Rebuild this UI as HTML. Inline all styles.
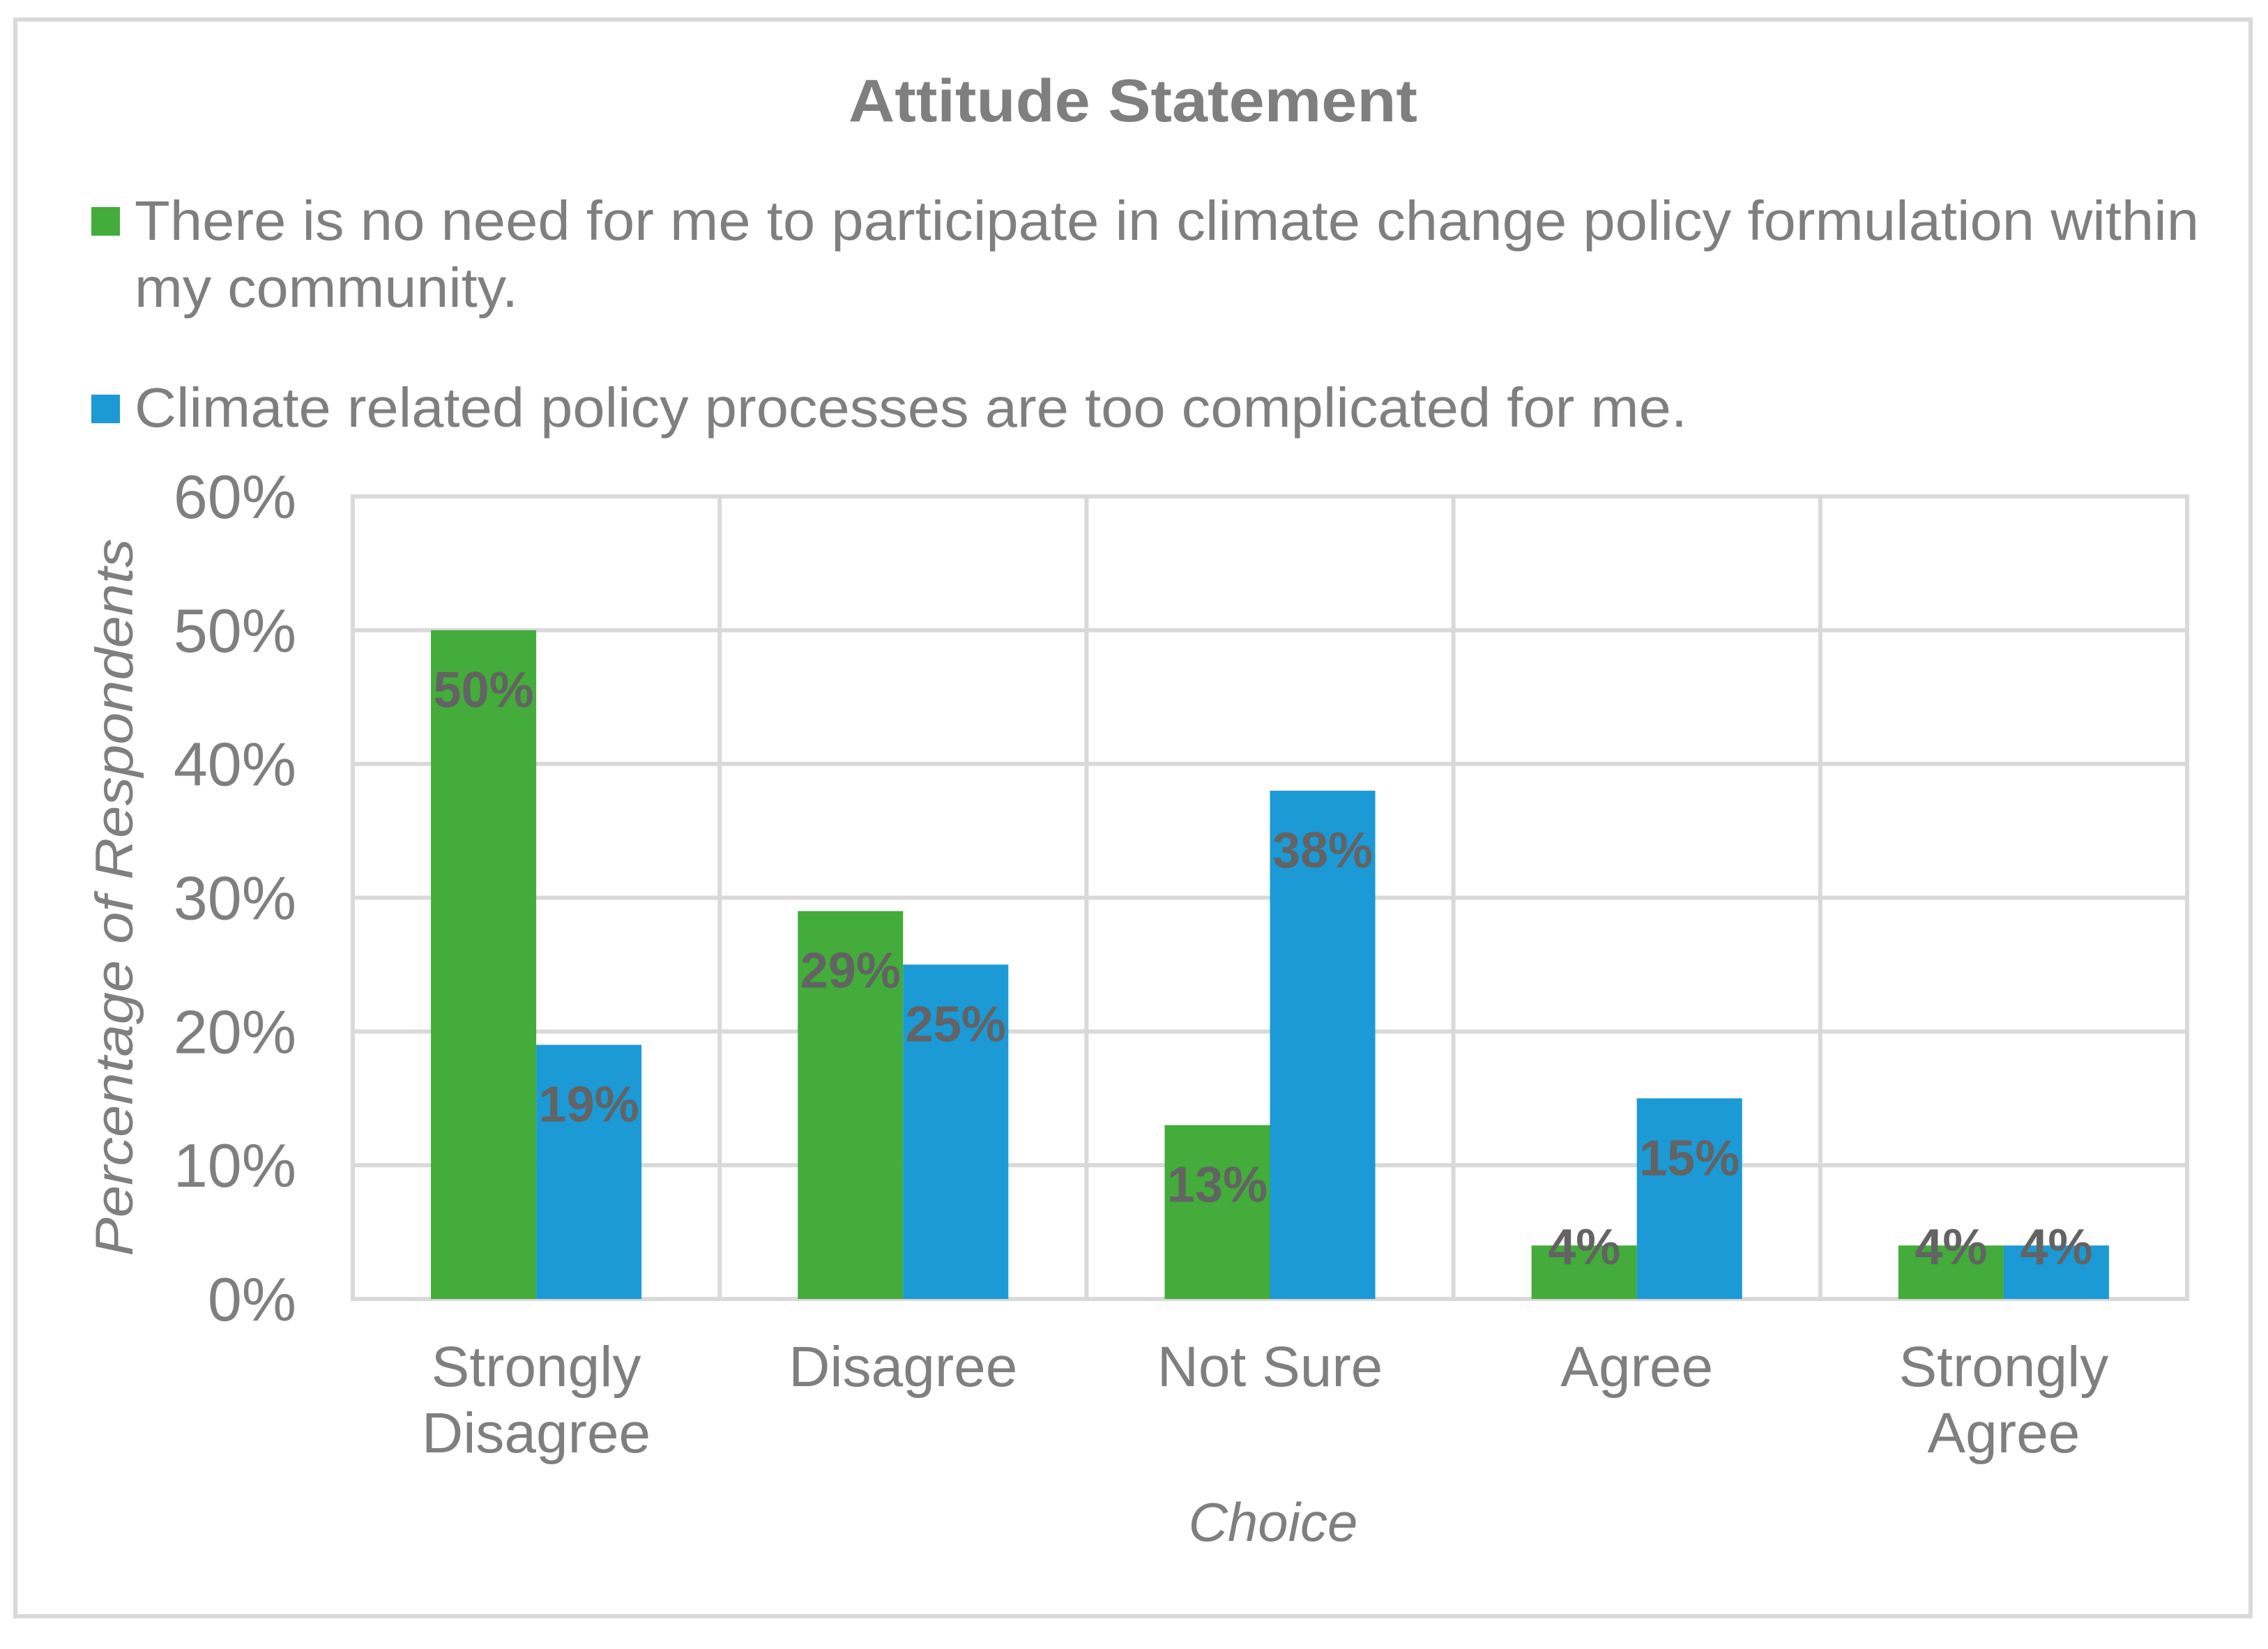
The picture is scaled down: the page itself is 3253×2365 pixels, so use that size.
<!DOCTYPE html>
<html><head><meta charset="utf-8"><style>
html,body{margin:0;padding:0;background:#fff;}
svg{display:block;font-family:"Liberation Sans",Arial,sans-serif;}
</style></head><body>
<svg id="chart" width="3253" height="2365" viewBox="0 0 3253 2365" xmlns="http://www.w3.org/2000/svg">
<rect x="22" y="28" width="3206" height="2290" fill="#fff" stroke="#d9d9d9" stroke-width="6"/>
<text x="1625" y="174" text-anchor="middle" font-size="86" font-weight="bold" fill="#7f7f7f" textLength="816" lengthAdjust="spacingAndGlyphs">Attitude Statement</text>
<g>
<g>
<rect x="131" y="297" width="41" height="41" fill="#43ac3a"/>
<text x="193" y="344" font-size="80" fill="#7f7f7f" textLength="2961" lengthAdjust="spacingAndGlyphs">There is no need for me to participate in climate change policy formulation within</text>
<text x="193" y="440" font-size="80" fill="#7f7f7f" textLength="550" lengthAdjust="spacingAndGlyphs">my community.</text>
</g>
<g>
<rect x="131" y="566" width="41" height="41" fill="#1b9ad6"/>
<text x="193" y="612" font-size="80" fill="#7f7f7f" textLength="2227" lengthAdjust="spacingAndGlyphs">Climate related policy processes are too complicated for me.</text>
</g>
</g>
<g id="grid"></g>
<g id="bars"></g>
<g id="yticks"></g>
<g id="xticks"></g>
<text transform="translate(190,1287) rotate(-90)" text-anchor="middle" font-size="76" font-style="italic" fill="#7f7f7f" textLength="1029" lengthAdjust="spacingAndGlyphs">Percentage of Respondents</text>
<text x="1826" y="2210" text-anchor="middle" font-size="78" font-style="italic" fill="#7f7f7f">Choice</text>
</svg>
<script>
const categories = [["Strongly","Disagree"],["Disagree"],["Not Sure"],["Agree"],["Strongly","Agree"]];
const seriesNoNeed = [50, 29, 13, 4, 4];
const seriesComplicated = [19, 25, 38, 15, 4];
const yTicks = [0, 10, 20, 30, 40, 50, 60];

const NS = "http://www.w3.org/2000/svg";
const L = 506, R = 3137, T = 712, B = 1863, YMAX = 60;
const catW = (R - L) / categories.length;
const barW = catW * 0.287;
function y(v){ return B - (v / YMAX) * (B - T); }
function cx(i){ return L + catW * (i + 0.5); }
function mk(tag, attrs, parent){
  const e = document.createElementNS(NS, tag);
  for (const k in attrs) e.setAttribute(k, attrs[k]);
  parent.appendChild(e);
  return e;
}
const grid = document.getElementById('grid');
yTicks.forEach(t => {
  const l = mk('line', {x1:L, x2:R, y1:y(t), y2:y(t), stroke:'#d9d9d9', 'stroke-width':6}, grid);
  
  
});
for (let i = 0; i <= categories.length; i++) {
  const x = L + catW * i;
  const l = mk('line', {x1:x, x2:x, y1:T-3, y2:B+3, stroke:'#d9d9d9', 'stroke-width':6}, grid);
  
  
}
const yt = document.getElementById('yticks');
yTicks.forEach(t => {
  const e = mk('text', {x:425, y:y(t)+31, 'text-anchor':'end', 'font-size':88, fill:'#7f7f7f'}, yt);
  e.textContent = t + '%';
  
  
});
const xt = document.getElementById('xticks');
categories.forEach((c, i) => {
  c.forEach((line, j) => {
    const e = mk('text', {x:cx(i), y:1988 + j*95, 'text-anchor':'middle', 'font-size':82, fill:'#7f7f7f'}, xt);
    e.textContent = line;
    
    
  });
});
const bars = document.getElementById('bars');
const series = [[seriesNoNeed, '#43ac3a', 'no-need'], [seriesComplicated, '#1b9ad6', 'too-complicated']];
series.forEach((s, si) => {
  s[0].forEach((v, i) => {
    const x = cx(i) - barW + si * barW;
    const r = mk('rect', {x:x, y:y(v), width:barW, height:B - y(v), fill:s[1]}, bars);
    
    
  });
});
series.forEach((s, si) => {
  s[0].forEach((v, i) => {
    const x = cx(i) - barW/2 + si * barW;
    const ty = Math.min(y(v) + 110, B - 50);
    const e = mk('text', {x:x, y:ty, 'text-anchor':'middle', 'font-size':72, 'font-weight':'bold', fill:'#636363'}, bars);
    e.textContent = v + '%';
    
    
  });
});
</script>
</body></html>
